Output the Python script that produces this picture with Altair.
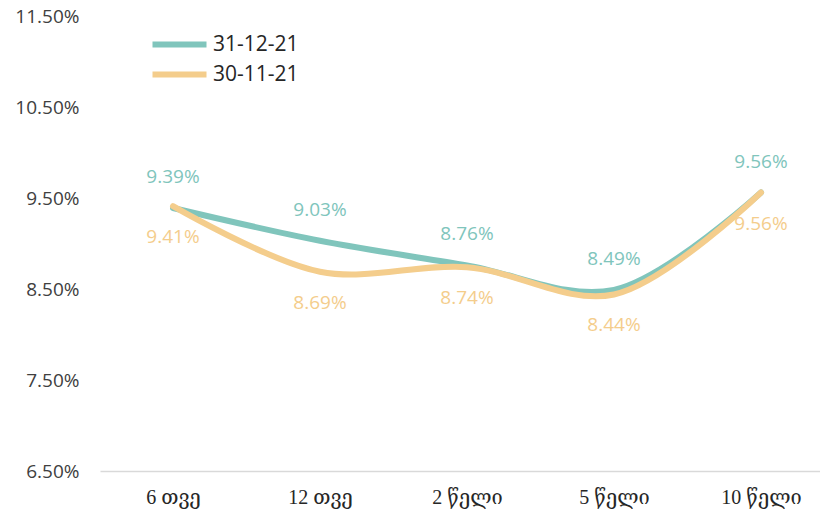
import altair as alt
import pandas as pd

categories = ["6 თვე", "12 თვე", "2 წელი", "5 წელი", "10 წელი"]
series_names = ["31-12-21", "30-11-21"]
values_dec = [9.39, 9.03, 8.76, 8.49, 9.56]
values_nov = [9.41, 8.69, 8.74, 8.44, 9.56]
y_ticks = [6.5, 7.5, 8.5, 9.5, 10.5, 11.5]
colors = ["#80c5bc", "#f4cd8c"]

rows = []
for i, c in enumerate(categories):
    rows.append({"cat": c, "series": series_names[0], "value": values_dec[i], "ord": 0})
for i, c in enumerate(categories):
    rows.append({"cat": c, "series": series_names[1], "value": values_nov[i], "ord": 1})
df = pd.DataFrame(rows)

x = alt.X(
    "cat:N",
    sort=categories,
    title=None,
    scale=alt.Scale(type="point", padding=0.449, align=0.553),
    axis=alt.Axis(
        labelAngle=0,
        ticks=False,
        grid=False,
        domainColor="#d9d9d9",
        domainWidth=1.5,
        labelFont="Liberation Serif, DejaVu Serif",
        labelFontSize=20,
        labelColor="#262626",
        labelPadding=16,
    ),
)
y = alt.Y(
    "value:Q",
    title=None,
    scale=alt.Scale(domain=[6.5, 11.5], nice=False, zero=False),
    axis=alt.Axis(
        values=y_ticks,
        labelExpr="format(datum.value, '.2f') + '%'",
        grid=False,
        domain=False,
        ticks=False,
        labelPadding=21,
        labelFont="Open Sans",
        labelFontSize=19,
        labelColor="#404040",
    ),
)

color = alt.Color(
    "series:N",
    sort=series_names,
    scale=alt.Scale(domain=series_names, range=colors),
    legend=alt.Legend(
        title=None,
        orient="none",
        legendX=63,
        legendY=12,
        symbolType="M-2,0H2",
        symbolStrokeWidth=6,
        symbolSize=729,
        labelFont="Open Sans",
        labelFontSize=21,
        labelColor="#262626",
        labelOffset=17,
        rowPadding=1,
    ),
)

base = alt.Chart(df)

lines = base.mark_line(
    interpolate="catmull-rom", strokeWidth=6, strokeCap="round"
).encode(x=x, y=y, color=color, order=alt.Order("ord:Q"), detail="series:N")

lbl = base.transform_calculate(label="format(datum.value, '.2f') + '%'")

text_dec = lbl.transform_filter(alt.datum.series == series_names[0]).mark_text(
    dy=-31, font="Open Sans", fontSize=19, color=colors[0]
).encode(x=x, y=y, text="label:N")

text_nov = lbl.transform_filter(alt.datum.series == series_names[1]).mark_text(
    dy=31, font="Open Sans", fontSize=19, color=colors[1]
).encode(x=x, y=y, text="label:N")

chart = (
    alt.layer(lines, text_dec, text_nov)
    .properties(
        width=720,
        height=455,
        padding={"left": 92, "top": 8, "right": 0, "bottom": 45},
        autosize=alt.AutoSizeParams(type="none"),
        background="white",
    )
    .configure_view(stroke=None)
)

chart.save("out.html", embed_options={"renderer": "svg", "actions": False})
